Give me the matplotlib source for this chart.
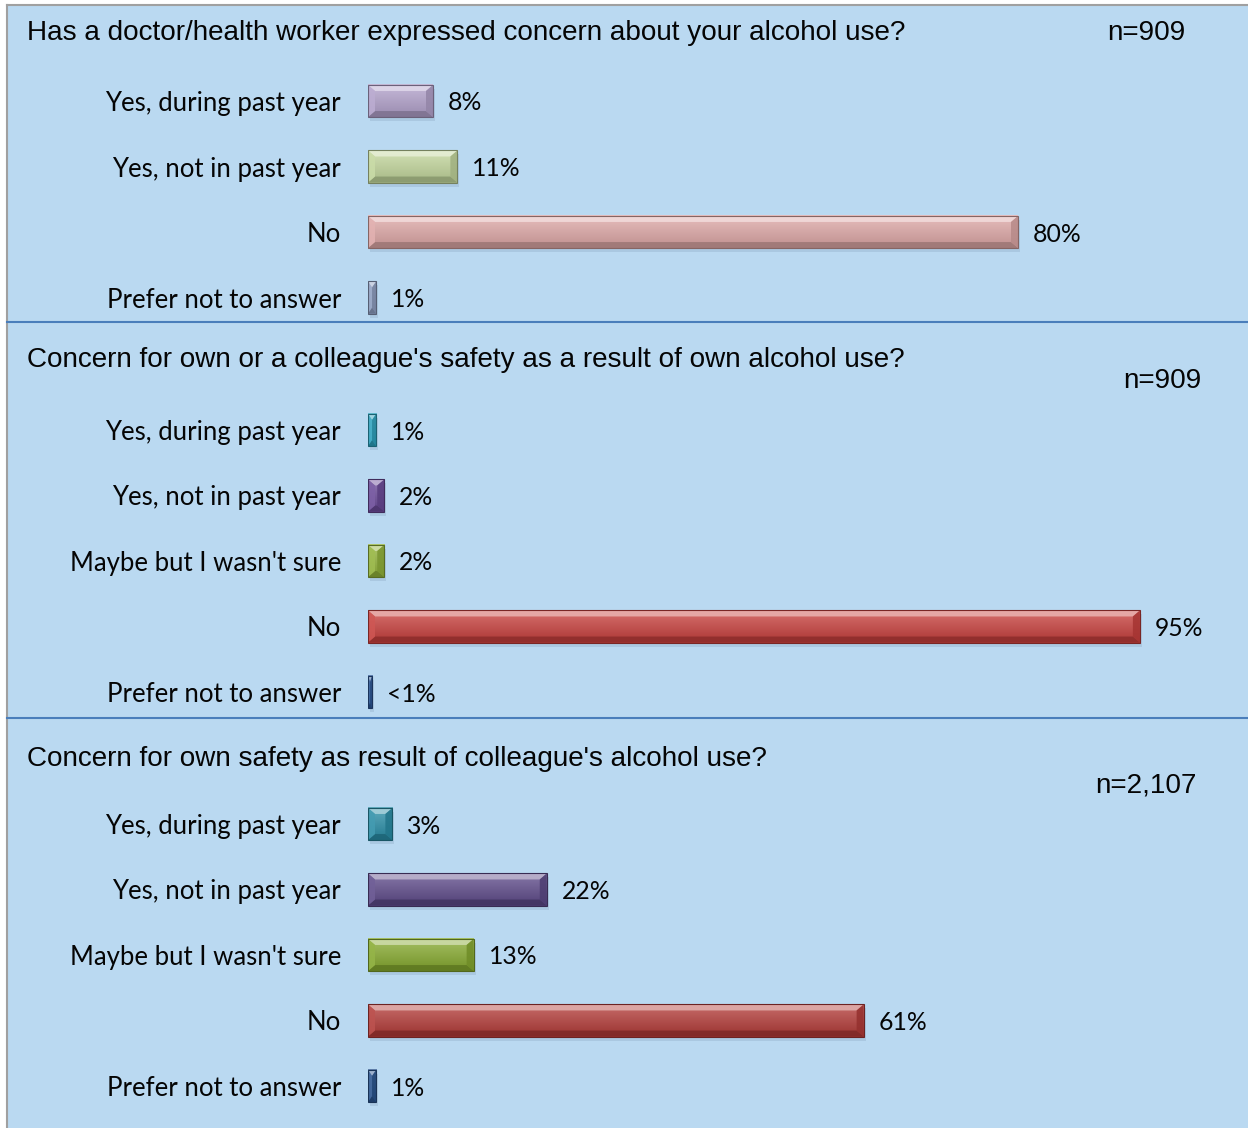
import matplotlib
matplotlib.use("Agg")
import matplotlib.pyplot as plt
import numpy as np
from matplotlib.patches import Polygon, Rectangle
from matplotlib.lines import Line2D
from matplotlib.colors import to_rgb

# ---------------------------------------------------------------- data
questions = [
    "Has a doctor/health worker expressed concern about your alcohol use?",
    "Concern for own or a colleague's safety as a result of own alcohol use?",
    "Concern for own safety as result of colleague's alcohol use?",
]
sample_sizes = ["n=909", "n=909", "n=2,107"]

q1_categories = ["Yes, during past year", "Yes, not in past year", "No",
                 "Prefer not to answer"]
q1_values = [8, 11, 80, 1]
q1_labels = ["8%", "11%", "80%", "1%"]
q1_colors = ["#B3A2CC", "#C3D79C", "#DFA8A7", "#8F9FC2"]

q2_categories = ["Yes, during past year", "Yes, not in past year",
                 "Maybe but I wasn't sure", "No", "Prefer not to answer"]
q2_values = [1, 2, 2, 95, 0.5]
q2_labels = ["1%", "2%", "2%", "95%", "<1%"]
q2_colors = ["#2DA3BF", "#6B4A9A", "#93B43A", "#C9403D", "#2B5797"]

q3_categories = ["Yes, during past year", "Yes, not in past year",
                 "Maybe but I wasn't sure", "No", "Prefer not to answer"]
q3_values = [3, 22, 13, 61, 1]
q3_labels = ["3%", "22%", "13%", "61%", "1%"]
q3_colors = ["#2A8FA8", "#5E4A8A", "#87AB2F", "#B43B38", "#2A5590"]

# ---------------------------------------------------------------- layout (pixels)
W, H, DPI = 1248, 1128, 100
BG = "#BAD9F1"
SEP = "#4A7EBB"
FRAME = "#A0A0A0"
BAR_LEFT = 368          # x pixel of 0 %
PX_PER_PCT = 8.125
ROW_STEP = 65.5
BAR_H = 0.49

panels = [
    dict(cats=q1_categories, vals=q1_values, labs=q1_labels, cols=q1_colors,
         first=101, title_y=33, n_right=1185, n_y=33),
    dict(cats=q2_categories, vals=q2_values, labs=q2_labels, cols=q2_colors,
         first=430, title_y=360, n_right=1201, n_y=381),
    dict(cats=q3_categories, vals=q3_values, labs=q3_labels, cols=q3_colors,
         first=824, title_y=759, n_right=1197, n_y=785),
]

TITLE_FONT = "Liberation Sans"
LABEL_FONT = "Lato"
TITLE_SIZE = 20.1
LABEL_SIZE = 18.5
VALUE_SIZE = 17.8
TEXT_COLOR = "#050505"


def fx(x):
    return x / W


def fy(y):
    return 1 - y / H


def shade(c, f):
    c = np.array(to_rgb(c))
    if f >= 0:
        return tuple(c + (1 - c) * f)
    return tuple(c * (1 + f))


BEVEL_X = 7 / PX_PER_PCT
BEVEL_Y = 6 / ROW_STEP
SH_DX = 2 / PX_PER_PCT
SH_DY = 4 / ROW_STEP


def bevel_bar(ax, y, v, color):
    top = y - BAR_H / 2          # visual top (y axis inverted)
    bot = y + BAR_H / 2
    bx = min(BEVEL_X, v / 2)
    by = BEVEL_Y
    # soft drop shadow
    ax.add_patch(Rectangle((SH_DX, top + SH_DY), v, BAR_H, facecolor="#1f3b5a",
                           alpha=0.10, lw=0, zorder=1))
    # face with vertical gradient
    grad = np.linspace(0, 1, 32)[:, None, None]
    c_top = np.array(shade(color, 0.25))
    c_bot = np.array(shade(color, -0.14))
    img = c_top * (1 - grad) + c_bot * grad
    ax.imshow(img, extent=(0, v, bot, top), origin="upper", aspect="auto",
              interpolation="bilinear", zorder=2)
    # bevel facets
    facets = [
        ([(0, top), (v, top), (v - bx, top + by), (bx, top + by)], 0.6),
        ([(0, bot), (v, bot), (v - bx, bot - by), (bx, bot - by)], -0.3),
        ([(0, top), (bx, top + by), (bx, bot - by), (0, bot)], 0.12),
        ([(v, top), (v - bx, top + by), (v - bx, bot - by), (v, bot)], -0.18),
    ]
    for pts, f in facets:
        ax.add_patch(Polygon(pts, closed=True, facecolor=shade(color, f),
                             edgecolor="none", alpha=0.85, zorder=3))
    ax.add_patch(Rectangle((0, top), v, BAR_H, fill=False,
                           edgecolor=shade(color, -0.4), lw=0.8, zorder=4))


fig = plt.figure(figsize=(W / DPI, H / DPI), dpi=DPI, facecolor="white")

# panel background and frame
fig.patches.append(Rectangle((fx(7), 0), 1 - fx(7), fy(5), transform=fig.transFigure,
                             facecolor=BG, edgecolor="none", zorder=-5))
fig.lines.append(Line2D([fx(6.5), fx(6.5)], [0, fy(5)], transform=fig.transFigure,
                        color=FRAME, lw=1.5))
fig.lines.append(Line2D([fx(6.5), 1], [fy(5), fy(5)], transform=fig.transFigure,
                        color=FRAME, lw=1.5))
for ysep in (322, 718):
    fig.lines.append(Line2D([fx(7), 1], [fy(ysep), fy(ysep)], transform=fig.transFigure,
                            color=SEP, lw=1.5))

for p, q, nlab in zip(panels, questions, sample_sizes):
    n = len(p["cats"])
    top_px = p["first"] - ROW_STEP / 2
    bot_px = p["first"] + (n - 1) * ROW_STEP + ROW_STEP / 2
    ax = fig.add_axes([fx(BAR_LEFT), fy(bot_px), 1 - fx(BAR_LEFT),
                       (bot_px - top_px) / H])
    ax.set_facecolor("none")
    for i, (v, c, lab) in enumerate(zip(p["vals"], p["cols"], p["labs"])):
        bevel_bar(ax, i, v, c)
        ax.annotate(lab, xy=(v, i), xytext=(15 * 72 / DPI, 0),
                    textcoords="offset points", va="center_baseline", ha="left",
                    fontsize=VALUE_SIZE, fontfamily=LABEL_FONT, color=TEXT_COLOR)
    ax.set_xlim(0, (W - BAR_LEFT) / PX_PER_PCT)
    ax.set_ylim(n - 0.5, -0.5)
    ax.set_yticks(range(n))
    ax.set_yticklabels(p["cats"], fontsize=LABEL_SIZE, fontfamily=LABEL_FONT,
                       color=TEXT_COLOR, va="center_baseline")
    ax.tick_params(axis="y", length=0, pad=27 * 72 / DPI)
    ax.set_xticks([])
    for s in ax.spines.values():
        s.set_visible(False)

    fig.text(fx(27), fy(p["title_y"]), q, fontsize=TITLE_SIZE,
             fontfamily=TITLE_FONT, va="center", ha="left", color=TEXT_COLOR)
    fig.text(fx(p["n_right"]), fy(p["n_y"]), nlab, fontsize=TITLE_SIZE,
             fontfamily=TITLE_FONT, va="center", ha="right", color=TEXT_COLOR)

fig.savefig("out.png", dpi=DPI, facecolor="white")
